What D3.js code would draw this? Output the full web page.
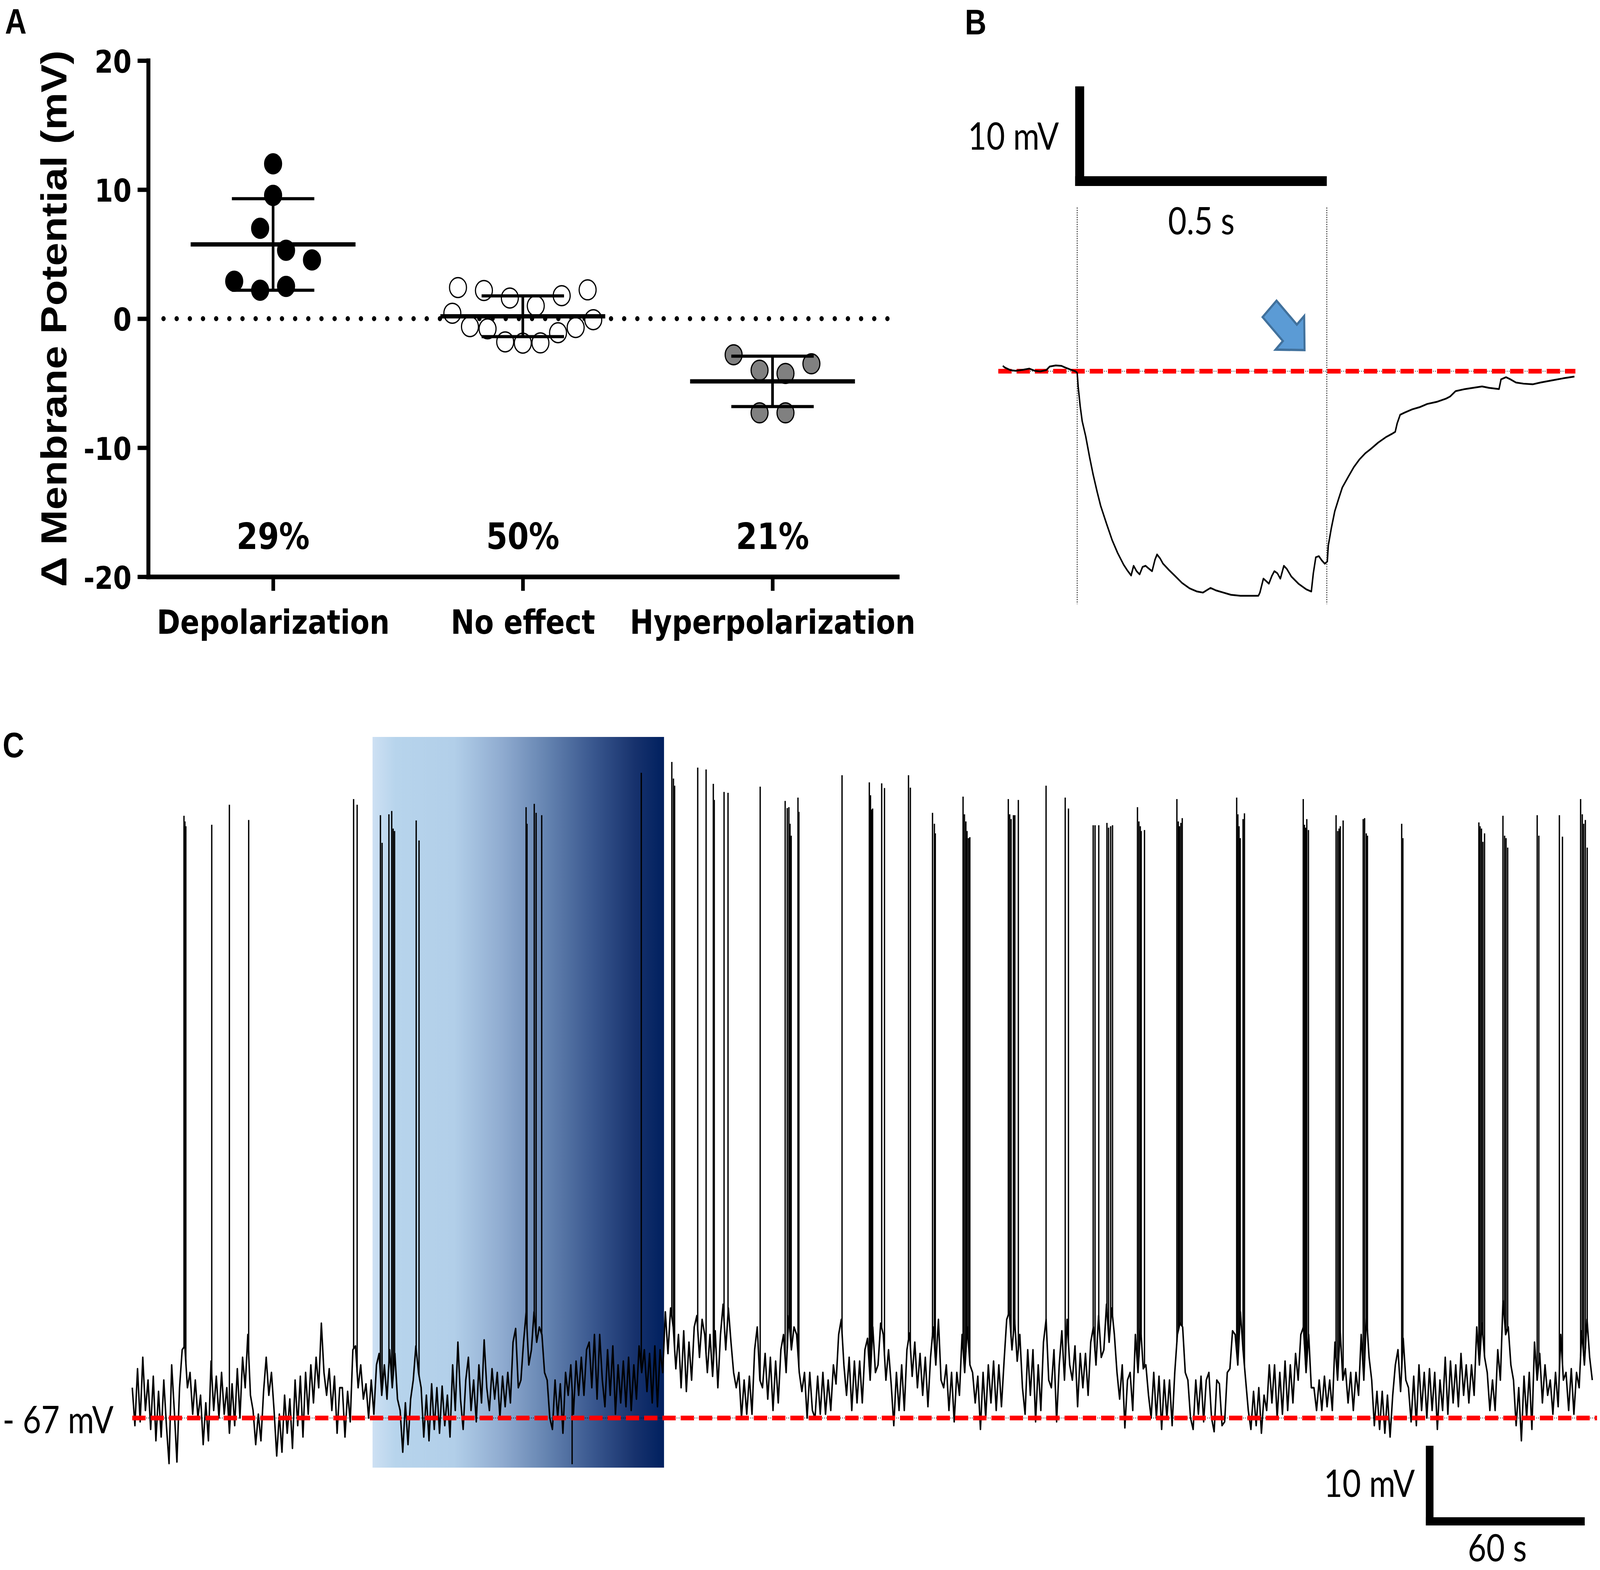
<!DOCTYPE html>
<html><head><meta charset="utf-8">
<script src="https://cdn.jsdelivr.net/npm/d3@7"></script>
<style>html,body{margin:0;padding:0;background:#fff;width:100%;height:100%;overflow:hidden}
#fig{display:block;width:100vw;height:100vh}</style>
</head><body>
<svg id="fig" viewBox="0 0 4814 4018" preserveAspectRatio="none" xmlns="http://www.w3.org/2000/svg"></svg>
<script>
// ---------------- DATA ----------------
// Panel A
const categories = ["Depolarization", "No effect", "Hyperpolarization"];
const percentLabels = ["29%", "50%", "21%"];
const depolarization = [2.9, 2.2, 2.5, 4.55, 7.0, 5.3, 9.55, 12.0];
const noEffect = [0.42, -0.62, -0.79, -1.80, -1.90, -1.88, -1.09, -0.69, -0.08,
                  2.41, 2.18, 1.60, 0.99, 1.78, 2.23];
const hyperpolarization = [-7.3, -7.3, -2.8, -4.0, -4.25, -3.5];
const yTicksA = [-20, -10, 0, 10, 20];
const yLabelA = "\u0394 Menbrane Potential (mV)";

// Panel B (time in s from light onset, membrane potential change in mV)
const lightB = [0, 0.5];
const traceBTime = [-0.149,-0.145,-0.134,-0.123,-0.108,-0.096,-0.085,-0.074,-0.062,-0.055,
 -0.043,-0.032,-0.024,-0.013,-0.003,0.000,0.002,0.006,0.010,0.017,
 0.025,0.032,0.040,0.047,0.059,0.070,0.081,0.093,0.100,0.108,
 0.113,0.119,0.125,0.131,0.137,0.142,0.150,0.156,0.160,0.166,
 0.172,0.184,0.195,0.210,0.225,0.240,0.252,0.267,0.278,0.293,
 0.308,0.327,0.346,0.363,0.366,0.373,0.378,0.384,0.390,0.395,
 0.401,0.407,0.414,0.420,0.429,0.444,0.459,0.469,0.473,0.478,
 0.484,0.490,0.496,0.501,0.503,0.509,0.516,0.524,0.531,0.543,
 0.554,0.565,0.577,0.588,0.603,0.618,0.630,0.637,0.641,0.647,
 0.656,0.671,0.686,0.701,0.720,0.739,0.747,0.758,0.777,0.792,
 0.811,0.826,0.845,0.849,0.859,0.868,0.879,0.894,0.913,0.928,
 0.951,0.974,0.996];
const traceBmV = [0.54,0.37,0.11,0.04,0.15,0.26,0.04,-0.02,0.11,0.47,
 0.58,0.54,0.37,0.15,-0.02,-0.17,-1.57,-3.51,-5.01,-6.52,
 -8.67,-10.39,-12.11,-13.51,-15.34,-16.95,-18.24,-19.42,-19.96,-20.50,
 -19.53,-20.07,-20.39,-19.64,-19.53,-19.75,-20.07,-18.89,-18.39,-18.78,
 -19.32,-19.96,-20.50,-21.25,-21.79,-22.11,-22.22,-21.75,-22.00,-22.22,
 -22.44,-22.54,-22.54,-22.54,-22.22,-20.82,-21.04,-21.32,-20.54,-20.07,
 -20.28,-20.82,-19.53,-19.85,-20.61,-21.36,-21.90,-22.11,-20.28,-18.67,
 -18.56,-18.99,-19.32,-19.10,-17.49,-15.77,-14.05,-12.76,-11.68,-10.60,
 -9.64,-8.88,-8.24,-7.81,-7.16,-6.63,-6.30,-6.09,-5.23,-4.37,
 -4.15,-3.83,-3.61,-3.29,-3.08,-2.75,-2.54,-2.00,-1.79,-1.68,
 -1.53,-1.68,-1.79,-0.82,-0.60,-0.82,-1.14,-1.25,-1.31,-1.14,
 -0.92,-0.71,-0.54];

// Panel C (time in s, membrane potential in mV)
const restC = -67;
const lightC = [91.5, 202.5];
const traceCStep = 1; // s between samples
const traceCmV = [
 -63,-68,-60.5,-67.5,-59,-66,-62,-68.5,-61.5,-70,-63.5,-69.5,-62,-68,-73,-60,-66,-72.8,-63,-58,
 -57.5,-63,-61,-66.5,-62,-67,-64,-70.5,-65,-70,-59.5,-66,-61.5,-67,-61,-66.5,-63,-69,-62.5,-68,
 -60.5,-67,-59,-63,-56,-64,-66,-70.5,-66.5,-70,-63.5,-59,-64,-61,-66,-72,-66.5,-71.5,-64,-69,
 -64.5,-71,-62,-68,-61.5,-69.5,-61,-66.5,-60,-65,-59,-63,-54.5,-61,-64,-60.5,-66,-61.5,-69,-63,
 -63,-69.5,-63.5,-67.5,-58,-57.5,-63,-60,-64.5,-62.5,-67,-62,-66.5,-60,-58.5,-64,-60,-64.5,-58,-63,
 -58.5,-64.5,-66,-71.5,-65,-70.5,-64.5,-62,-57.5,-61,-63,-69.5,-64,-70,-62.5,-68.5,-63,-69,-62.8,-68,
 -64,-69.5,-60,-66,-57,-64.5,-68.5,-62,-59,-66,-62,-67.5,-60,-65,-56.7,-63,-66,-60.5,-64.5,-61,
 -67,-61.5,-65.5,-61,-65,-57,-55.2,-63,-62,-57,-53,-60,-58,-53,-57,-55,-56,-61,-62,-67,
 -68.5,-62,-67,-62.5,-69,-61,-64,-60,-66.5,-59.5,-64,-59,-64,-58,-57,-63,-56,-64.5,-56,-62,
 -65.5,-58,-64,-57.5,-66.5,-60,-65,-59.5,-65.5,-59,-66,-60,-64.5,-57.5,-61,-58,-63.5,-58.5,-65,-57.5,
 -65.5,-58,-61,-53,-58.5,-52.5,-55,-60.5,-56,-63,-55.5,-63.5,-57,-62,-55,-53.5,-59,-54,-56,-61,
 -56,-61.5,-55.5,-63,-56,-52,-58,-52.5,-57,-61,-63,-61,-67,-62,-66.5,-61.5,-66.5,-58,-55,-62,
 -63,-58.5,-64.5,-59,-66,-59.5,-65,-58,-56,-61,-53.5,-58,-55,-56,-61,-63.5,-61,-67,-61,-66,
 -67,-61.5,-66.5,-61,-66.5,-62,-66,-60,-62.5,-56,-54,-60,-64,-59,-66,-59.5,-65,-59.5,-65,-58,
 -56.5,-62,-55,-61,-60,-54.5,-56,-62,-58,-62.5,-68,-61,-66,-60,-66,-58,-55.8,-61.5,-57,-63,
 -58.5,-64,-59,-65.5,-59,-55,-60,-54,-62,-63,-60,-66,-61,-67.5,-61,-64,-56,-61,-55,-60,
 -61,-65,-61.5,-68.5,-61,-67,-60,-65,-59.5,-66,-60,-65.5,-59.5,-54,-53,-58,-54,-59.5,-56,-63,
 -66.5,-58,-64,-58,-67.5,-60,-66,-57,-54,-62,-63,-58,-67.5,-60,-55.5,-62,-54,-60,-62,-57.5,
 -65.5,-58.5,-63,-58.5,-64,-57,-55,-60,-53.5,-59,-58,-52,-57,-52.5,-56,-61,-64.5,-60,-68.3,-62,
 -61,-66,-56,-61,-55,-60.5,-60,-64,-67,-61,-67,-61.5,-68.5,-62,-67,-62,-68,-61,-56,-54.5,
 -55,-61,-62,-67,-68.5,-62,-66.5,-61.5,-67.5,-62,-61,-67,-68.8,-62,-62.5,-68,-67.5,-61,-60.5,-55.5,
 -56,-60,-53,-58,-62,-66,-68.5,-63.5,-68,-63,-69,-64,-66,-60,-65,-60,-67,-61,-66.5,-59.5,
 -66,-60,-65,-58.5,-62,-56,-55,-61,-56,-63,-63,-66,-62,-66,-61.5,-65.5,-62,-66,-57,-62,
 -55.5,-62,-60.5,-65,-61,-66,-61,-64,-56,-62,-53.5,-59,-62,-68,-63.5,-68.5,-63.5,-69,-64,-69.5,
 -64,-60,-58,-63.5,-56.5,-62,-63,-67.5,-61.5,-68,-60,-66,-61,-67,-60.5,-66,-61,-68.5,-62,-66,
 -59,-66.5,-59.5,-65,-60,-65.5,-58.5,-64,-60,-65,-60,-64,-55,-60,-54.5,-59,-61,-66,-62,-66,
 -58,-62,-51.5,-56,-55,-60,-62,-68,-63,-70,-61.5,-67,-61,-68.5,-57,-62,-58.5,-65,-60,-64,
 -62,-66.5,-61,-65.5,-56,-62,-61,-66,-60.5,-66.5,-61,-63,-55.5,-60,-54,-59,-62];
const spikeTimes = [
 19.69,20.05,20.40,30.26,36.98,44.33,84.29,85.63,94.50,95.13,97.73,98.80,99.34,99.88,108.12,109.20,
 149.97,150.32,153.08,153.79,155.92,167.5,193.84,205.47,206.09,206.53,215.33,218.52,221.27,221.63,
 225.36,226.87,239.12,248.63,249.43,250.05,250.49,250.93,253.51,253.86,270.29,
 280.68,281.13,281.57,281.93,285.39,286.46,295.60,296.31,304.75,305.46,305.81,
 316.38,316.91,317.45,317.89,318.42,318.96,333.61,334.14,334.67,335.56,336.09,337.43,
 347.99,355.28,356.52,365.93,366.64,368.06,371.17,371.79,372.59,373.30,
 382.80,383.34,383.87,384.22,385.47,397.81,398.34,398.79,399.32,399.85,
 420.58,421.03,421.48,421.93,423.00,423.54,445.93,446.38,446.83,447.28,447.91,
 458.43,459.05,459.59,460.04,461.12,468.76,469.30,469.93,470.38,483.42,483.87,
 512.81,513.26,513.80,514.34,514.97,521.98,522.61,523.15,523.78,
 535.02,535.65,543.47,544.64,551.56,552.19,552.73,553.36,554.08];
const spikePeaks = [
 12.45,11.7,11.07,11.26,13.9,11.89,14.65,13.9,12.52,8.87,12.64,13.08,10.76,10.44,11.83,9.19,
 13.58,11.39,14.02,12.83,12.52,-73.1,18.11,19.55,17.35,16.41,18.8,18.55,16.66,14.53,
 15.59,15.47,16.28,14.4,13.46,13.58,11.39,9.82,14.84,12.96,17.79,
 16.85,15.15,13.27,13.4,16.72,16.1,17.79,16.16,12.83,11.39,10.13,
 14.97,12.64,11.7,10.44,9.5,9.63,14.65,12.64,12.01,12.52,12.52,14.53,
 16.41,14.84,13.4,11.2,11.2,11.2,11.51,10.88,11.07,11.2,
 13.58,11.7,11.07,10.44,10.57,14.65,11.7,11.07,11.51,12.14,
 14.84,12.64,11.07,9.5,12.01,12.77,14.65,11.26,10.88,12.01,10.57,
 12.52,10.44,10.76,11.07,11.83,12.01,12.14,10.13,9.82,11.39,9.5,
 11.57,11.07,10.76,9.0,10.13,12.45,9.82,9.5,8.25,
 12.52,9.82,12.52,9.69,14.65,12.64,11.39,11.89,8.25];
const scaleBarC = {mV: 10, s: 60};
const scaleBarB = {mV: 10, s: 0.5};

// ---------------- DRAWING ----------------
const svg = d3.select("#fig");
const BOLD = "'DejaVu Sans', sans-serif";
const ARIALB = "'Liberation Sans', Arial, sans-serif";
const CAL = "Lato, 'Open Sans', sans-serif";

[["A", 15, 86], ["B", 2903, 88], ["C", 8, 1938]].forEach(([t, x, y]) => {
  svg.append("text").attr("x", x).attr("y", y).text(t)
    .attr("font-family", ARIALB).attr("font-weight", "bold").attr("font-size", 90);
});

// ===== Panel A =====
const xA = d3.scalePoint().domain(categories).range([446, 2700]).padding(0.5);
const yA = d3.scaleLinear().domain([-20, 20]).range([1476, 155]);
const gA = svg.append("g");

gA.append("line").attr("x1", 492).attr("x2", 2672).attr("y1", yA(0)).attr("y2", yA(0))
  .attr("stroke", "#000").attr("stroke-width", 13).attr("stroke-linecap", "round")
  .attr("stroke-dasharray", "0 39.6");

const yAxisA = d3.axisLeft(yA).tickValues(yTicksA).tickSize(32).tickSizeOuter(0)
  .tickPadding(18).tickFormat(d => String(d));
const gy = gA.append("g").attr("transform", "translate(446,0)").call(yAxisA);
gy.select(".domain").attr("stroke-width", 12).attr("stroke-linecap", "square");
gy.selectAll(".tick line").attr("stroke-width", 11);
gy.selectAll(".tick text").attr("font-family", BOLD).attr("font-weight", "bold")
  .attr("font-size", 80).attr("dy", "0.38em").attr("fill", "#000");

const xAxisA = d3.axisBottom(xA).tickSize(36).tickSizeOuter(0);
const gx = gA.append("g").attr("transform", "translate(0,1476)").call(xAxisA);
gx.select(".domain").attr("stroke-width", 12).attr("stroke-linecap", "square");
gx.selectAll(".tick line").attr("stroke-width", 11);
gx.selectAll(".tick text").attr("font-family", BOLD).attr("font-weight", "bold")
  .attr("font-size", 85).attr("y", 146).attr("dy", 0).attr("fill", "#000");
gA.selectAll(".domain, .tick line").attr("stroke", "#000");

gA.append("text").attr("transform", `translate(200,${yA(0)}) rotate(-90)`)
  .attr("text-anchor", "middle").attr("font-family", ARIALB).attr("font-weight", "bold")
  .attr("font-size", 108).text(yLabelA);

gA.selectAll("text.pct").data(categories).join("text").attr("class", "pct")
  .attr("x", d => xA(d)).attr("y", 1405).attr("text-anchor", "middle")
  .attr("font-family", BOLD).attr("font-weight", "bold").attr("font-size", 92)
  .text((d, i) => percentLabels[i]);

function columnLayout(values, binSize, maxStep, maxSpan) {
  const min = d3.min(values);
  const bins = d3.group(values.map(v => ({v})), d => Math.floor((d.v - min) / binSize + 1e-9));
  const out = [];
  for (const [, pts] of bins) {
    const n = pts.length;
    const step = n > 1 ? Math.min(maxStep, maxSpan / (n - 1)) : 0;
    pts.forEach((p, k) => out.push({v: p.v, dx: (k - (n - 1) / 2) * step}));
  }
  return out;
}
const groupsA = [depolarization, noEffect, hyperpolarization];
const fills = ["#000", "#fff", "#808080"];
groupsA.forEach((vals, gi) => {
  const cx = xA(categories[gi]);
  const pts = columnLayout(vals, 2.5, 78, 424);
  gA.append("g").selectAll("circle").data(pts).join("circle")
    .attr("cx", d => cx + d.dx).attr("cy", d => yA(d.v)).attr("r", 25.5)
    .attr("fill", fills[gi]).attr("stroke", "#000").attr("stroke-width", 3.5);
});
groupsA.forEach((vals, gi) => {
  const cx = xA(categories[gi]);
  const m = d3.mean(vals), sd = d3.deviation(vals);
  const g = gA.append("g").attr("stroke", "#000");
  g.append("line").attr("x1", cx).attr("x2", cx).attr("y1", yA(m + sd)).attr("y2", yA(m - sd)).attr("stroke-width", 8);
  [m + sd, m - sd].forEach(v => g.append("line").attr("x1", cx - 124).attr("x2", cx + 124)
    .attr("y1", yA(v)).attr("y2", yA(v)).attr("stroke-width", 8));
  g.append("line").attr("x1", cx - 248).attr("x2", cx + 248).attr("y1", yA(m)).attr("y2", yA(m)).attr("stroke-width", 11);
});

// ===== Panel B =====
const xB = d3.scaleLinear().domain([0, 0.5]).range([3241, 3992]);
const yB = d3.scaleLinear().domain([0, -10]).range([950, 1205]);
const gB = svg.append("g");

lightB.forEach(t => gB.append("line").attr("x1", xB(t)).attr("x2", xB(t)).attr("y1", 531).attr("y2", 1546)
  .attr("stroke", "#222").attr("stroke-width", 2.5).attr("stroke-dasharray", "3 3"));

gB.append("line").attr("x1", xB(-0.158)).attr("x2", xB(0.998)).attr("y1", yB(0)).attr("y2", yB(0))
  .attr("stroke", "#000").attr("stroke-width", 2).attr("stroke-dasharray", "2 4");
gB.append("line").attr("x1", xB(-0.158)).attr("x2", xB(0.998)).attr("y1", yB(0)).attr("y2", yB(0))
  .attr("stroke", "#ff0000").attr("stroke-width", 12).attr("stroke-dasharray", "40 15");

const lineB = d3.line().x((d, i) => xB(traceBTime[i])).y(d => yB(d));
gB.append("path").datum(traceBmV).attr("d", lineB).attr("fill", "none")
  .attr("stroke", "#000").attr("stroke-width", 4.5).attr("stroke-linejoin", "round");

const sbLeftB = xB(0) - 6, sbBottomB = 476;
gB.append("rect").attr("x", sbLeftB).attr("y", sbBottomB - (yB(-scaleBarB.mV) - yB(0)))
  .attr("width", 27).attr("height", yB(-scaleBarB.mV) - yB(0)).attr("fill", "#000");
gB.append("rect").attr("x", sbLeftB).attr("y", sbBottomB - 25)
  .attr("width", xB(scaleBarB.s) - sbLeftB).attr("height", 25).attr("fill", "#000");
gB.append("text").attr("x", 3186).attr("y", 383).attr("text-anchor", "end")
  .attr("font-family", CAL).attr("font-size", 96).text("10 mV");
gB.append("text").attr("x", (xB(0) + xB(0.5)) / 2 - 2).attr("y", 600).attr("text-anchor", "middle")
  .attr("font-family", CAL).attr("font-size", 96).text("0.5 s");

{
  const tip = [xB(0.4555), yB(2.12)];
  const d = [Math.SQRT1_2, Math.SQRT1_2], n = [Math.SQRT1_2, -Math.SQRT1_2];
  const loc = [[0, 0], [-62.6, 61], [-62.6, 29.7], [-149, 29.7], [-149, -29.7], [-62.6, -29.7], [-62.6, -61]];
  const pts = loc.map(([u, v]) => [tip[0] + u * d[0] + v * n[0], tip[1] + u * d[1] + v * n[1]]);
  gB.append("path").attr("d", "M" + pts.map(p => p.join(",")).join("L") + "Z")
    .attr("fill", "#5b9bd5").attr("stroke", "#41719c").attr("stroke-width", 6).attr("stroke-linejoin", "miter");
}

// ===== Panel C =====
const xC = d3.scaleLinear().domain([0, 557.8]).range([398, 4805]);
const yC = d3.scaleLinear().domain([-67, -57]).range([3629, 3435]);
const gC = svg.append("g");

const defs = svg.append("defs");
const grad = defs.append("linearGradient").attr("id", "lightGrad").attr("x1", "0").attr("x2", "1").attr("y1", "0").attr("y2", "0");
[[0, "#cde0f3"], [0.08, "#b7d4ec"], [0.28, "#b2cfe9"], [0.45, "#8eaacf"], [0.6, "#6483b0"],
 [0.75, "#3b5990"], [0.9, "#17326d"], [1, "#00205f"]].forEach(([o, c]) =>
  grad.append("stop").attr("offset", o).attr("stop-color", c));
gC.append("rect").attr("x", xC(lightC[0])).attr("width", xC(lightC[1]) - xC(lightC[0]))
  .attr("y", 1886).attr("height", 3756 - 1886).attr("fill", "url(#lightGrad)");

const tracePts = traceCmV.map((v, i) => [i * traceCStep, v]);
const lineC = d3.line().x(d => xC(d[0])).y(d => yC(d[1]));
gC.append("path").datum(tracePts).attr("d", lineC).attr("fill", "none")
  .attr("stroke", "#000").attr("stroke-width", 4.5).attr("stroke-linejoin", "round");

function traceAt(t) {
  const i = Math.min(Math.floor(t / traceCStep), traceCmV.length - 2);
  const f = t / traceCStep - i;
  return traceCmV[i] * (1 - f) + traceCmV[i + 1] * f;
}
gC.append("g").selectAll("line").data(spikeTimes).join("line")
  .attr("x1", d => xC(d)).attr("x2", d => xC(d))
  .attr("y1", d => yC(traceAt(d))).attr("y2", (d, i) => yC(spikePeaks[i]))
  .attr("stroke", "#000").attr("stroke-width", 4);

gC.append("line").attr("x1", xC(0)).attr("x2", xC(557.8)).attr("y1", yC(restC)).attr("y2", yC(restC))
  .attr("stroke", "#000").attr("stroke-width", 2).attr("stroke-dasharray", "2 4");
gC.append("line").attr("x1", xC(0)).attr("x2", xC(557.8)).attr("y1", yC(restC)).attr("y2", yC(restC))
  .attr("stroke", "#ff0000").attr("stroke-width", 12).attr("stroke-dasharray", "40 15");
gC.append("text").attr("x", 8).attr("y", 3668).attr("font-family", CAL).attr("font-size", 96).text("- 67 mV");

const sbLeftC = 4290, sbBottomC = 3904;
const vLenC = yC(restC) - yC(restC + scaleBarC.mV);
const hLenC = xC(scaleBarC.s) - xC(0);
gC.append("rect").attr("x", sbLeftC).attr("y", sbBottomC - 10 - vLenC).attr("width", 23)
  .attr("height", vLenC + 10).attr("fill", "#000");
gC.append("rect").attr("x", sbLeftC).attr("y", sbBottomC - 21).attr("width", hLenC + 4)
  .attr("height", 21).attr("fill", "#000");
gC.append("text").attr("x", 4257).attr("y", 3831).attr("text-anchor", "end")
  .attr("font-family", CAL).attr("font-size", 96).text("10 mV");
gC.append("text").attr("x", sbLeftC + hLenC / 2 - 22).attr("y", 3996).attr("text-anchor", "middle")
  .attr("font-family", CAL).attr("font-size", 96).text("60 s");
</script>
</body></html>
